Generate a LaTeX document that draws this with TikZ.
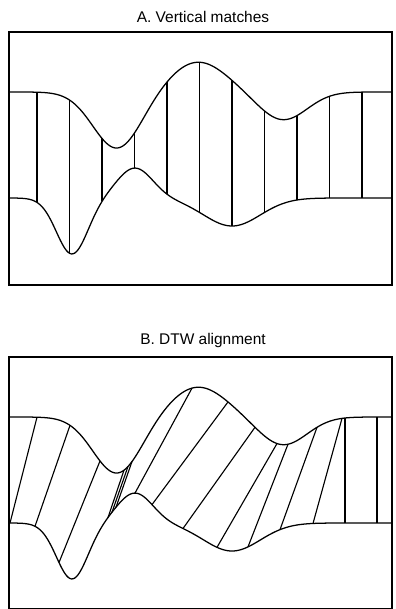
\documentclass[tikz,border=0pt]{standalone}
\usepackage{fontspec}
\setmainfont{Liberation Sans}
\usepackage{tikz}

\begin{document}
\begin{tikzpicture}[
    x=0.025cm, y=-0.025cm,
    declare function={
      gs(\t,\m,\w)=exp(-((\t-\m)/\w)*((\t-\m)/\w));
      top(\t)=92+56.5*gs(\t,117,34)-30*gs(\t,198,40)+28*gs(\t,283,34);
      bot(\t)=198+56*gs(\t,72,22)-30*gs(\t,135,25)+28*gs(\t,232,40);
    },
    frame/.style={draw, line width=0.8pt},
    curve/.style={line width=0.9pt, line join=round},
    match/.style={line width=0.8pt},
    ttl/.style={font=\fontsize{11pt}{13pt}\selectfont, inner sep=0pt},
  ]
  \useasboundingbox (0,0) rectangle (395,609);

  % ---------------- A: vertical matches
  \node[ttl] (titleA) at (203,16.5) {A. Vertical matches};
  \draw[frame] (9,32) rectangle (392,285);
  \draw[curve] plot[domain=9:392, samples=240, variable=\x] (\x,{top(\x)});
  \draw[curve] plot[domain=9:392, samples=240, variable=\x] (\x,{bot(\x)});
  \foreach \px in {37,69.5,...,362} {
    \draw[match] (\px,{top(\px)}) -- (\px,{bot(\px)});
  }

  % ---------------- B: DTW alignment
  \begin{scope}[shift={(0,325)}]
    \node[ttl] (titleB) at (203,15) {B. DTW alignment};
    \draw[frame] (9,32) rectangle (392,283.4);
    \draw[curve] plot[domain=9:392, samples=240, variable=\x] (\x,{top(\x)});
    \draw[curve] plot[domain=9:392, samples=240, variable=\x] (\x,{bot(\x)});
    \foreach \pb/\pt in {10/37, 35/70, 59/100, 108/124, 112/128, 116/132,
                         135/192, 152/228, 183/255, 217/277, 248/288,
                         280/317, 313/342, 345/345, 377/377} {
      \draw[match] (\pb,{bot(\pb)}) -- (\pt,{top(\pt)});
    }
  \end{scope}
\end{tikzpicture}
\end{document}
